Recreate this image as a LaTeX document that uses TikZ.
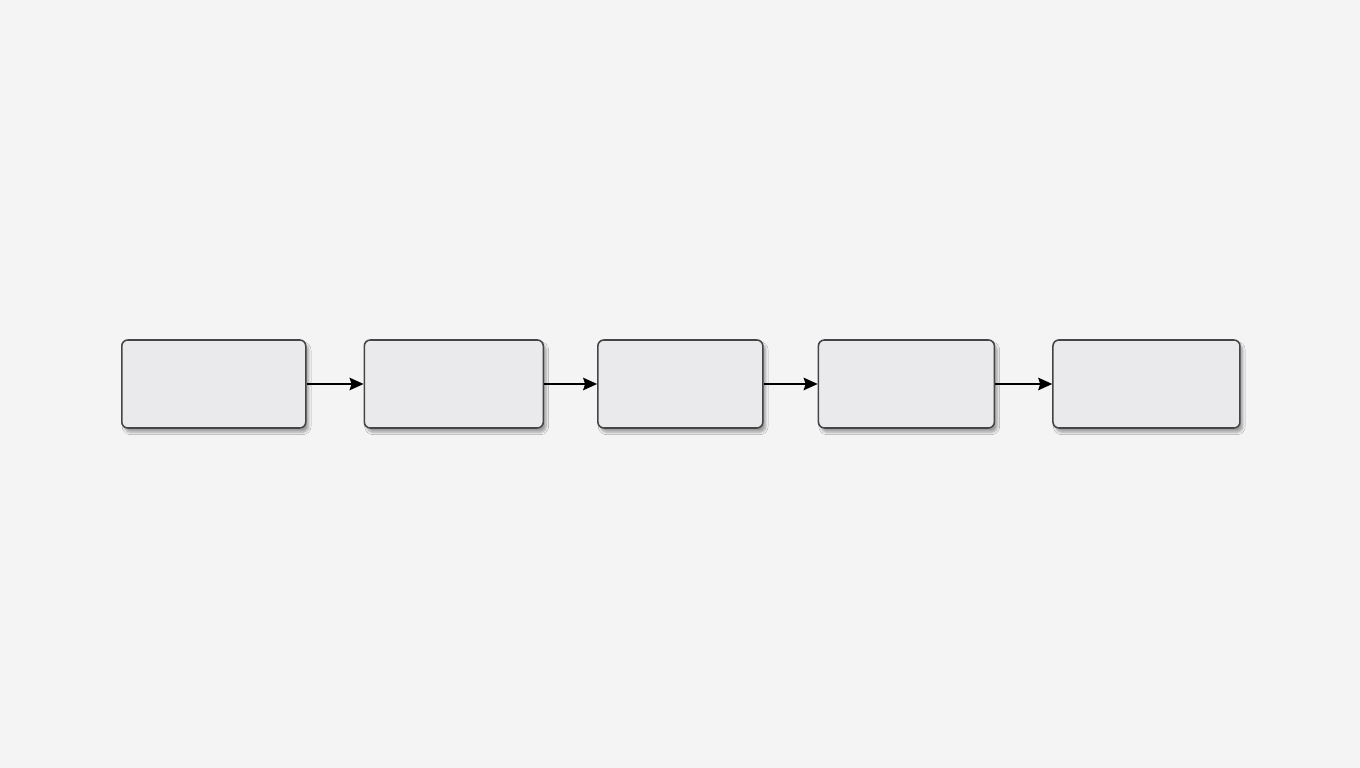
\documentclass[tikz,border=0pt]{standalone}
\usetikzlibrary{positioning,arrows.meta,shadows.blur}
\definecolor{bgGray}{HTML}{F4F4F4}
\definecolor{boxFill}{HTML}{EAEAEC}
\definecolor{boxLine}{HTML}{454547}

\begin{document}
\begin{tikzpicture}
  [stageN/.style={rectangle,rounded corners=0.15cm,draw=boxLine,fill=boxFill,
     line width=1.1pt,minimum height=2.2cm,inner sep=0pt,
     blur shadow={shadow xshift=2pt,shadow yshift=-3pt,shadow opacity=35,shadow blur steps=6}},
   flow/.style={line width=1pt,-{Stealth[length=10pt,width=9pt,inset=1.5pt]}},
   node distance=1.4cm]

  \fill[bgGray] (0,0) rectangle (34,19.2);
  \useasboundingbox (0,0) rectangle (34,19.2);

  \node[stageN,minimum width=4.6cm,anchor=west] (a) at (3.025,9.6) {};

  \node[stageN,minimum width=4.475cm] (b) [right=1.425cm of a] {};

  \node[stageN,minimum width=4.125cm] (c) [right=1.325cm of b] {};

  \node[stageN,minimum width=4.4cm] (d) [right=1.35cm of c] {};

  \node[stageN,minimum width=4.675cm] (e) [right=1.425cm of d] {};

  \draw[flow] (a) -- (b);
  \draw[flow] (b) -- (c);
  \draw[flow] (c) -- (d);
  \draw[flow] (d) -- (e);

\end{tikzpicture}
\end{document}
